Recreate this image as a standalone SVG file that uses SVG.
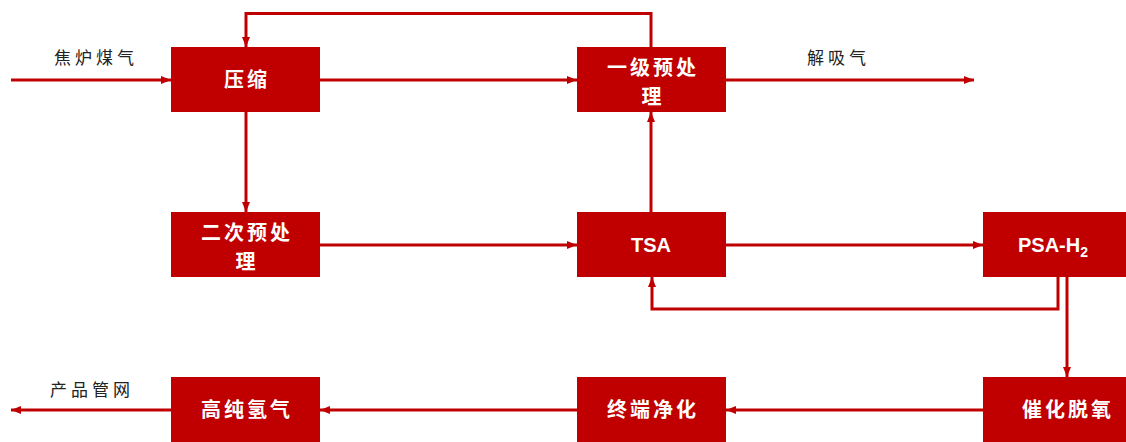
<svg xmlns="http://www.w3.org/2000/svg" width="1126" height="442" viewBox="0 0 1126 442">
<defs>
<marker id="ah" markerWidth="10" markerHeight="8" refX="10" refY="4" orient="auto" markerUnits="userSpaceOnUse">
<path d="M0,0 L10,4 L0,8 Z" fill="#C00000"/>
</marker>
<style>
.box{fill:#C00000;}
.bt{fill:#fff;font-family:"Noto Sans CJK SC","Liberation Sans",sans-serif;font-size:20px;font-weight:bold;text-anchor:middle;letter-spacing:3px;}
.bl{fill:#fff;font-family:"Liberation Sans","Noto Sans CJK SC",sans-serif;font-size:20px;font-weight:bold;text-anchor:middle;}
.lb{fill:#222;font-family:"Noto Sans CJK SC",sans-serif;font-size:17px;letter-spacing:4px;}
.c{fill:none;stroke:#C00000;stroke-width:3;}
</style>
</defs>
<g id="connectors">
<line class="c" x1="11" y1="80" x2="171" y2="80" marker-end="url(#ah)"/>
<line class="c" x1="320" y1="80" x2="577" y2="80" marker-end="url(#ah)"/>
<line class="c" x1="726" y1="80" x2="974" y2="80" marker-end="url(#ah)"/>
<polyline class="c" points="651,47 651,13.5 246,13.5 246,47" marker-end="url(#ah)"/>
<line class="c" x1="246" y1="112" x2="246" y2="212" marker-end="url(#ah)"/>
<line class="c" x1="320" y1="245" x2="577" y2="245" marker-end="url(#ah)"/>
<line class="c" x1="651" y1="212" x2="651" y2="112" marker-end="url(#ah)"/>
<line class="c" x1="726" y1="245" x2="983" y2="245" marker-end="url(#ah)"/>
<polyline class="c" points="1058,277 1058,309 652,309 652,277" marker-end="url(#ah)"/>
<line class="c" x1="1067" y1="277" x2="1067" y2="377" marker-end="url(#ah)"/>
<line class="c" x1="983" y1="410" x2="726" y2="410" marker-end="url(#ah)"/>
<line class="c" x1="577" y1="410" x2="320" y2="410" marker-end="url(#ah)"/>
<line class="c" x1="172" y1="410" x2="11" y2="410" marker-end="url(#ah)"/>
</g>
<g id="labels">
<text class="lb" x="54" y="64">焦炉煤气</text>
<text class="lb" x="807" y="64">解吸气</text>
<text class="lb" x="50" y="396">产品管网</text>
</g>
<g id="n-compress">
<rect class="box" x="171" y="47" width="149" height="65"/>
<text class="bt" x="247" y="87">压缩</text>
</g>
<g id="n-pre1">
<rect class="box" x="577" y="47" width="149" height="65"/>
<text class="bt" x="653" y="75">一级预处</text>
<text class="bt" x="653" y="104">理</text>
</g>
<g id="n-pre2">
<rect class="box" x="171" y="212" width="149" height="65"/>
<text class="bt" x="247" y="240">二次预处</text>
<text class="bt" x="247" y="269">理</text>
</g>
<g id="n-tsa">
<rect class="box" x="577" y="212" width="149" height="65"/>
<text class="bl" x="651" y="252">TSA</text>
</g>
<g id="n-psa">
<rect class="box" x="983" y="212" width="143" height="65"/>
<text class="bl" x="1053" y="252">PSA-H<tspan font-size="14" dy="5">2</tspan></text>
</g>
<g id="n-deox">
<rect class="box" x="983" y="377" width="143" height="65"/>
<text class="bt" x="1068" y="417">催化脱氧</text>
</g>
<g id="n-final">
<rect class="box" x="577" y="377" width="149" height="65"/>
<text class="bt" x="653" y="417">终端净化</text>
</g>
<g id="n-h2">
<rect class="box" x="171" y="377" width="149" height="65"/>
<text class="bt" x="247" y="417">高纯氢气</text>
</g>
</svg>
